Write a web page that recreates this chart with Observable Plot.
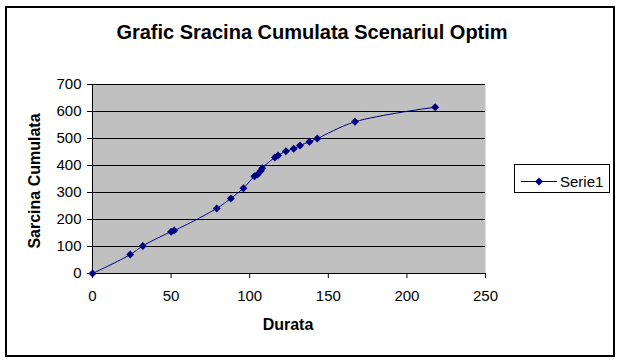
<!DOCTYPE html>
<html>
<head>
<meta charset="utf-8">
<script src="https://cdn.jsdelivr.net/npm/d3@7"></script>
<script src="https://cdn.jsdelivr.net/npm/@observablehq/plot@0.6"></script>
<style>
  body { margin: 0; background: #fff; font-family: "Liberation Sans", Arial, sans-serif; }
  #wrap { position: relative; width: 623px; height: 363px; overflow: hidden; background: #fff; }
  #frame { position: absolute; left: 5px; top: 6px; width: 610px; height: 351px; border: 2px solid #000; box-sizing: border-box; pointer-events: none; }
  #title { position: absolute; left: 0; top: 19px; width: 624px; text-align: center; font-weight: bold; font-size: 20px; line-height: 26px; color: #000; }
  #chart { position: absolute; left: 0; top: 0; }
  #xtitle { position: absolute; left: 188px; width: 200px; top: 315px; text-align: center; font-weight: bold; font-size: 16px; line-height: 20px; }
  #ytitle { position: absolute; left: 35px; top: 181px; transform: translate(-50%, -50%) rotate(-90deg); white-space: nowrap; font-weight: bold; font-size: 16px; line-height: 20px; }
  #legend { position: absolute; left: 514px; top: 164px; width: 96px; height: 29px; border: 1px solid #000; box-sizing: border-box; background: #fff; }
  #legend svg { position: absolute; left: 0; top: 0; }
</style>
</head>
<body>
<div id="wrap">
  <div id="chart"></div>
  <div id="title">Grafic Sracina Cumulata Scenariul Optim</div>
  <div id="xtitle">Durata</div>
  <div id="ytitle">Sarcina Cumulata</div>
  <div id="legend"></div>
  <div id="frame"></div>
</div>
<script>
// Data
const durata  = [0, 24, 32, 50, 52, 79, 88, 96, 103, 105, 107, 108, 116, 118, 123, 128, 132, 138, 143, 167, 218];
const sarcina = [0, 70, 102, 155, 159, 241, 278, 316, 360, 367, 380, 390, 430, 437, 453, 462, 474, 488, 500, 562, 616];
const xTicks = [0, 50, 100, 150, 200, 250];
const yTicks = [0, 100, 200, 300, 400, 500, 600, 700];
const seriesName = "Serie1";

const data = durata.map((d, i) => ({durata: d, sarcina: sarcina[i]}));
const navy = "#000080";

const chart = Plot.plot({
  width: 623,
  height: 363,
  marginLeft: 92,
  marginRight: 138,
  marginTop: 84,
  marginBottom: 90,
  x: {domain: [0, 250]},
  y: {domain: [0, 700]},
  style: {fontFamily: "'Liberation Sans', Arial, sans-serif", fontSize: "15px", background: "transparent", color: "#000"},
  marks: [
    Plot.frame({fill: "#c0c0c0", stroke: null}),
    Plot.gridY(yTicks, {stroke: "#000", strokeOpacity: 1, strokeWidth: 1}),
    Plot.axisX(xTicks, {tickSize: 5, tickPadding: 12, label: null, stroke: "#000", fill: "#000"}),
    Plot.axisY(yTicks, {tickSize: 5, tickPadding: 6, label: null, stroke: "#000", fill: "#000"}),
    Plot.ruleX([0], {stroke: "#000", strokeWidth: 1}),
    Plot.ruleY([0], {stroke: "#000", strokeWidth: 1}),
    Plot.line(data, {x: "durata", y: "sarcina", curve: "catmull-rom", stroke: navy, strokeWidth: 1}),
    Plot.dot(data, {x: "durata", y: "sarcina", symbol: "diamond2", r: 3.6, fill: navy, stroke: null})
  ]
});
document.getElementById("chart").appendChild(chart);

// Legend (single series key)
const lg = d3.select("#legend").append("svg").attr("width", 96).attr("height", 29);
lg.append("line").attr("x1", 6).attr("x2", 42).attr("y1", 16.5).attr("y2", 16.5).attr("stroke", navy).attr("stroke-width", 1);
lg.append("path").attr("d", d3.symbol(d3.symbolDiamond2, Math.PI * 3.6 * 3.6)()).attr("transform", "translate(24,16.5)").attr("fill", navy);
lg.append("text").attr("x", 45).attr("y", 16.5).attr("dy", "0.35em").attr("font-size", 15).attr("font-family", "'Liberation Sans', Arial, sans-serif").attr("fill", "#000").text(seriesName);
</script>
</body>
</html>
